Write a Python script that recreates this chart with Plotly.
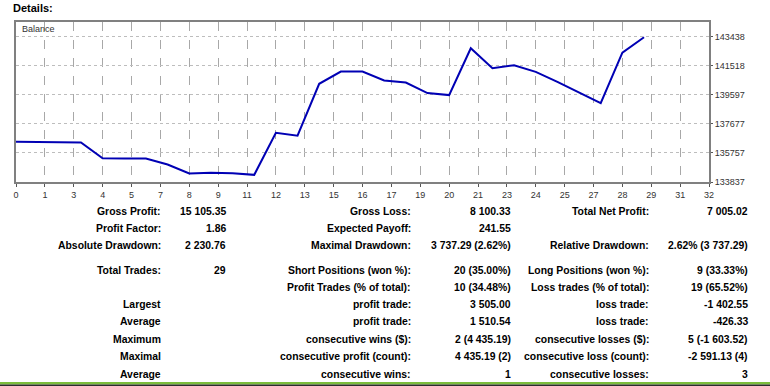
import plotly.graph_objects as go

# ---------------- data ----------------
trade_no = list(range(30))
balance = [136500, 136500, 136460, 136440, 135402, 135395, 135380, 134988, 134396, 134442,
           134420, 134310, 137082, 136895, 140314, 141123, 141123, 140531, 140400, 139703,
           139571, 142662, 141347, 141544, 141103, 140446, 139755, 139045, 142373, 143385]

y_ticks = [133837, 135757, 137677, 139597, 141518, 143438]
x_tick_labels = ["0", "1", "3", "4", "5", "7", "8", "9", "11", "12", "13", "15", "16",
                 "17", "19", "20", "21", "23", "24", "25", "27", "28", "29", "31", "32"]

col1_labels = ["Gross Profit:", "Profit Factor:", "Absolute Drawdown:", "Total Trades:", "",
               "Largest", "Average", "Maximum", "Maximal", "Average"]
col1_values = ["15 105.35", "1.86", "2 230.76", "29", "", "", "", "", "", ""]
col2_labels = ["Gross Loss:", "Expected Payoff:", "Maximal Drawdown:", "Short Positions (won %):",
               "Profit Trades (% of total):", "profit trade:", "profit trade:",
               "consecutive wins ($):", "consecutive profit (count):", "consecutive wins:"]
col2_values = ["8 100.33", "241.55", "3 737.29 (2.62%)", "20 (35.00%)", "10 (34.48%)",
               "3 505.00", "1 510.54", "2 (4 435.19)", "4 435.19 (2)", "1"]
col3_labels = ["Total Net Profit:", "", "Relative Drawdown:", "Long Positions (won %):",
               "Loss trades (% of total):", "loss trade:", "loss trade:",
               "consecutive losses ($):", "consecutive loss (count):", "consecutive losses:"]
col3_values = ["7 005.02", "", "2.62% (3 737.29)", "9 (33.33%)", "19 (65.52%)",
               "-1 402.55", "-426.33", "5 (-1 603.52)", "-2 591.13 (4)", "3"]

# ---------------- layout geometry ----------------
W, H = 770, 386
L, R, T, B = 16, 709, 22, 182          # plot area in pixels
pw, ph = R - L, B - T

def px(x):
    return (x - L) / pw

def py(y):
    return (B - y) / ph

x_max = 32
n_int = len(x_tick_labels) - 1
x_tickvals = [k * x_max / n_int for k in range(n_int + 1)]
y_top = y_ticks[-1] + (36.5 - T) / (B + 0.5 - 36.5) * (y_ticks[-1] - y_ticks[0])

FONT = "Liberation Sans"
TFONT = "Liberation Sans"

fig = go.Figure()
fig.add_trace(go.Scatter(x=trade_no, y=balance, mode="lines",
                         line=dict(color="#0000b4", width=2), hoverinfo="skip"))

fig.update_layout(
    width=W, height=H,
    margin=dict(l=L, r=W - R, t=T, b=H - B),
    paper_bgcolor="white", plot_bgcolor="white",
    showlegend=False,
    font=dict(family=FONT, size=9, color="#333333"),
    xaxis=dict(range=[0, x_max], tickvals=x_tickvals, ticktext=x_tick_labels,
               showgrid=True, gridcolor="#a8a8a8", griddash="dash", gridwidth=1,
               showline=True, mirror=True, linecolor="#808080", linewidth=2,
               ticks="outside", ticklen=3, tickcolor="#555555", zeroline=False,
               tickfont=dict(size=9, color="#333333")),
    yaxis=dict(range=[y_ticks[0], y_top], tickvals=y_ticks, side="right",
               showgrid=True, gridcolor="#bdbdbd", griddash="dot", gridwidth=1,
               showline=True, mirror=True, linecolor="#808080", linewidth=2,
               ticks="outside", ticklen=2, tickcolor="#555555", zeroline=False,
               tickformat="d", tickfont=dict(size=9, color="#333333")),
)

ann = []
ann.append(dict(text="<b>Details:</b>", x=px(11), y=py(8), xref="paper", yref="paper",
                xanchor="left", yanchor="middle", showarrow=False,
                font=dict(family=TFONT, size=11, color="#000000")))
ann.append(dict(text="Balance", x=px(20), y=py(29), xref="paper", yref="paper",
                xanchor="left", yanchor="middle", showarrow=False,
                font=dict(family=FONT, size=9, color="#333333")))

# table rows
row_y = []
y0, step = 211, 17.4
for i in range(len(col1_labels)):
    row_y.append(y0 + i * step + (7 if i >= 3 else 0) - (0.6 if i >= 5 else 0))
col_right = [162, 227, 412, 512, 650, 749]
cols = [col1_labels, col1_values, col2_labels, col2_values, col3_labels, col3_values]
for c, texts in enumerate(cols):
    for i, t in enumerate(texts):
        if not t:
            continue
        ann.append(dict(text="<b>" + t + "</b>", x=px(col_right[c] + 1), y=py(row_y[i]),
                        xref="paper", yref="paper", xanchor="right", yanchor="middle",
                        showarrow=False, font=dict(family=TFONT, size=10.4, color="#000000")))
fig.update_layout(annotations=ann)

fig.update_layout(shapes=[
    dict(type="rect", xref="paper", yref="paper", x0=px(-5), x1=px(W + 5),
         y0=py(382), y1=py(384.5), fillcolor="#7cbd3c", line=dict(width=0), layer="above"),
    dict(type="rect", xref="paper", yref="paper", x0=px(-5), x1=px(W + 5),
         y0=py(384.5), y1=py(390), fillcolor="#2d2d2d", line=dict(width=0), layer="above"),
])

fig.write_html("out.html", config={"displayModeBar": False},
               post_script="document.body.style.margin='0';document.body.style.overflow='hidden';")
